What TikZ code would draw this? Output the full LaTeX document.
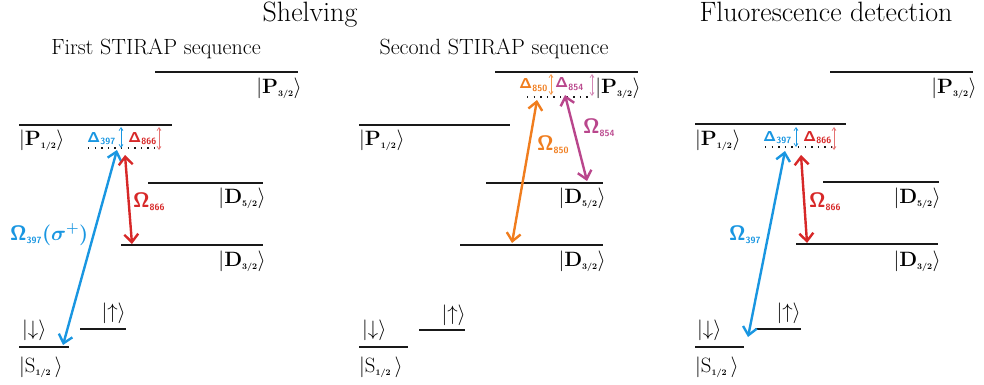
\documentclass[tikz,border=0pt]{standalone}
\usetikzlibrary{arrows.meta}
\definecolor{cblue}{RGB}{25,150,225}
\definecolor{cred}{RGB}{215,40,40}
\definecolor{corange}{RGB}{240,125,30}
\definecolor{cmag}{RGB}{185,70,140}
\definecolor{clev}{RGB}{25,25,25}
\newcommand\ksub[1]{\mbox{\fontsize{8.5}{8.5}\selectfont\bfseries #1}}
\newcommand\gsub[1]{\mbox{\fontsize{9}{9}\selectfont\sffamily\bfseries #1}}
\newcommand\kP[1]{$\bigl|\mathbf{P}_{\ksub{#1}}\bigr\rangle$}
\newcommand\kD[1]{$\bigl|\mathbf{D}_{\ksub{#1}}\bigr\rangle$}
\newcommand\kS{$\bigl|\mathrm{S}_{\ksub{1/2}}\,\bigr\rangle$}
\newcommand\gsym[2]{{\boldmath$\mathsf{#1}_{\gsub{#2}}$}}
\tikzset{
  level/.style={line width=2pt, draw=clev},
  ket/.style={inner sep=0pt, font=\fontsize{21}{21}\selectfont},
  spin/.style={inner sep=0pt, font=\fontsize{20}{20}\selectfont},
  title/.style={inner sep=0pt, anchor=base, font=\fontsize{28}{28}\selectfont},
  subtitle/.style={inner sep=0pt, anchor=base, font=\fontsize{22}{22}\selectfont},
  dlab/.style={inner sep=0pt, anchor=base west, font=\fontsize{15.5}{15.5}\selectfont},
  olab/.style={inner sep=0pt, anchor=base west, font=\fontsize{20}{20}\selectfont},
  laser/.style={line width=2.4pt, {Straight Barb[length=8pt,width=14pt,line width=2.4pt]}-{Straight Barb[length=8pt,width=14pt,line width=2.4pt]}},
  detarrow/.style={line width=0.7pt, {Straight Barb[length=3pt,width=4pt]}-{Straight Barb[length=3pt,width=4pt]}},
  dots/.style={line width=1.3pt, dash pattern=on 1.3pt off 5.3pt, draw=clev},
}
\begin{document}
\begin{tikzpicture}[x=1pt,y=-1pt]
\useasboundingbox (0,0) rectangle (984,385);
% titles
\node[title] (t1) at (310,22) {Shelving};
\node[title] (t3) at (826,22) {Fluorescence detection};
\node[subtitle] (s1) at (156,55) {First STIRAP sequence};
\node[subtitle] (s2) at (494,55) {Second STIRAP sequence};

% ================= Panel 1 =================
\coordinate (a1P3l) at (155,72); \coordinate (a1P3r) at (298,72);
\coordinate (a1P1l) at (19,125); \coordinate (a1P1r) at (172,125);
\coordinate (a1D5l) at (148,183); \coordinate (a1D5r) at (263,183);
\coordinate (a1D3l) at (121,245); \coordinate (a1D3r) at (263,245);
\coordinate (a1Sl) at (19,347); \coordinate (a1Sr) at (69,347);
\coordinate (a1Ul) at (80,329); \coordinate (a1Ur) at (126,329);
\foreach \l in {P3,P1,D5,D3,S,U} \draw[level] (a1\l l) -- (a1\l r);
\node[ket, anchor=east] (a1kP3) at (302,88) {\kP{3/2}};
\node[ket, anchor=west] (a1kP1) at (19,140) {\kP{1/2}};
\node[ket, anchor=east] (a1kD5) at (266,198) {\kD{5/2}};
\node[ket, anchor=east] (a1kD3) at (266,261) {\kD{3/2}};
\node[ket, anchor=west] (a1kS) at (19,367) {\kS};
\node[spin, anchor=west] (a1dn) at (22,330) {$|{\downarrow}\rangle$};
\node[spin, anchor=east] (a1up) at (126,313) {$|{\uparrow}\rangle$};
\coordinate (a1dotl) at (88,148); \coordinate (a1dotr) at (156,148);
\draw[dots] (a1dotl) -- (a1dotr);
\node[dlab, text=cblue] (a1d397) at (87,142) {\gsym{\Delta}{397}};
\node[dlab, text=cred] (a1d866) at (128,142) {\gsym{\Delta}{866}};
\coordinate (a1bt) at (121,127); \coordinate (a1bb) at (121,148);
\coordinate (a1rt) at (159,127); \coordinate (a1rb) at (159,150);
\draw[detarrow, cblue] (a1bt) -- (a1bb);
\draw[detarrow, cred!65] (a1rt) -- (a1rb);
\coordinate (a1blo) at (63,345); \coordinate (a1bhi) at (117,150);
\coordinate (a1rhi) at (125,155); \coordinate (a1rlo) at (132,244);
\draw[laser, cblue] (a1blo) -- (a1bhi);
\draw[laser, cred] (a1rhi) -- (a1rlo);
\node[olab, text=cred] (a1o866) at (133,207) {\gsym{\Omega}{866}};
\node[olab, text=cblue] (a1o397) at (10,240) {{\boldmath$\mathsf{\Omega}_{\gsub{397}}(\sigma^{+})$}};

% ================= Panel 2 =================
\coordinate (a2P3l) at (495,72); \coordinate (a2P3r) at (638,72);
\coordinate (a2P1l) at (359,125); \coordinate (a2P1r) at (510,125);
\coordinate (a2D5l) at (486,183); \coordinate (a2D5r) at (603,183);
\coordinate (a2D3l) at (460,245); \coordinate (a2D3r) at (603,245);
\coordinate (a2Sl) at (359,347); \coordinate (a2Sr) at (408,347);
\coordinate (a2Ul) at (419,330); \coordinate (a2Ur) at (465,330);
\foreach \l in {P3,P1,D5,D3,S,U} \draw[level] (a2\l l) -- (a2\l r);
\node[ket, anchor=east] (a2kP3) at (641,88) {\kP{3/2}};
\node[ket, anchor=west] (a2kP1) at (359,140) {\kP{1/2}};
\node[ket, anchor=east] (a2kD5) at (606,198) {\kD{5/2}};
\node[ket, anchor=east] (a2kD3) at (606,261) {\kD{3/2}};
\node[ket, anchor=west] (a2kS) at (359,367) {\kS};
\node[spin, anchor=west] (a2dn) at (362,330) {$|{\downarrow}\rangle$};
\node[spin, anchor=east] (a2up) at (466,315) {$|{\uparrow}\rangle$};
\coordinate (a2dotl) at (527,97); \coordinate (a2dotr) at (588,97);
\draw[dots] (a2dotl) -- (a2dotr);
\node[dlab, text=corange] (a2d850) at (519,89) {\gsym{\Delta}{850}};
\node[dlab, text=cmag] (a2d854) at (555,88) {\gsym{\Delta}{854}};
\coordinate (a2ot) at (551,74); \coordinate (a2ob) at (551,95);
\coordinate (a2mt) at (592,74); \coordinate (a2mb) at (592,96);
\draw[detarrow, corange!80] (a2ot) -- (a2ob);
\draw[detarrow, cmag!65] (a2mt) -- (a2mb);
\coordinate (a2ohi) at (537,100); \coordinate (a2olo) at (512,243);
\coordinate (a2mhi) at (565,95); \coordinate (a2mlo) at (587,181);
\draw[laser, corange] (a2ohi) -- (a2olo);
\draw[laser, cmag] (a2mhi) -- (a2mlo);
\node[olab, text=corange] (a2o850) at (537,150) {\gsym{\Omega}{850}};
\node[olab, text=cmag] (a2o854) at (583,133) {\gsym{\Omega}{854}};

% ================= Panel 3 =================
\coordinate (a3P3l) at (830,72); \coordinate (a3P3r) at (973,72);
\coordinate (a3P1l) at (695,124); \coordinate (a3P1r) at (846,124);
\coordinate (a3D5l) at (823,182); \coordinate (a3D5r) at (939,182);
\coordinate (a3D3l) at (796,244); \coordinate (a3D3r) at (938,244);
\coordinate (a3Sl) at (695,347); \coordinate (a3Sr) at (744,347);
\coordinate (a3Ul) at (755,329); \coordinate (a3Ur) at (801,329);
\foreach \l in {P3,P1,D5,D3,S,U} \draw[level] (a3\l l) -- (a3\l r);
\node[ket, anchor=east] (a3kP3) at (977,88) {\kP{3/2}};
\node[ket, anchor=west] (a3kP1) at (695,140) {\kP{1/2}};
\node[ket, anchor=east] (a3kD5) at (941,198) {\kD{5/2}};
\node[ket, anchor=east] (a3kD3) at (941,261) {\kD{3/2}};
\node[ket, anchor=west] (a3kS) at (695,367) {\kS};
\node[spin, anchor=west] (a3dn) at (697,330) {$|{\downarrow}\rangle$};
\node[spin, anchor=east] (a3up) at (801,313) {$|{\uparrow}\rangle$};
\coordinate (a3dotl) at (765,147); \coordinate (a3dotr) at (835,147);
\draw[dots] (a3dotl) -- (a3dotr);
\node[dlab, text=cblue] (a3d397) at (763,141) {\gsym{\Delta}{397}};
\node[dlab, text=cred] (a3d866) at (803,141) {\gsym{\Delta}{866}};
\coordinate (a3bt) at (796,127); \coordinate (a3bb) at (796,147);
\coordinate (a3rt) at (834,127); \coordinate (a3rb) at (834,150);
\draw[detarrow, cblue] (a3bt) -- (a3bb);
\draw[detarrow, cred!65] (a3rt) -- (a3rb);
\coordinate (a3blo) at (748,337); \coordinate (a3bhi) at (785,151);
\coordinate (a3rhi) at (801,155); \coordinate (a3rlo) at (807,243);
\draw[laser, cblue] (a3blo) -- (a3bhi);
\draw[laser, cred] (a3rhi) -- (a3rlo);
\node[olab, text=cred] (a3o866) at (809,207) {\gsym{\Omega}{866}};
\node[olab, text=cblue] (a3o397) at (729,240) {\gsym{\Omega}{397}};
\end{tikzpicture}
\end{document}
